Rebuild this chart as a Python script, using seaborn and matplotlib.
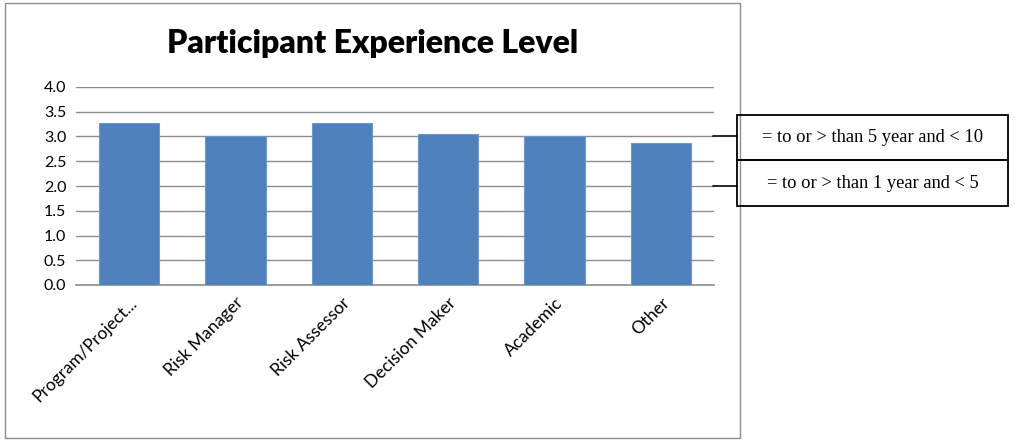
import matplotlib.pyplot as plt
import matplotlib.transforms as mtransforms
from matplotlib.patches import Rectangle
from matplotlib.lines import Line2D
import seaborn as sns
import pandas as pd

roles = ["Program/Project...", "Risk Manager", "Risk Assessor",
         "Decision Maker", "Academic", "Other"]
experience = [3.27, 3.01, 3.27, 3.05, 3.01, 2.86]
level_labels = ["= to or > than 5 year and < 10", "= to or > than 1 year and < 5"]
level_values = [3.0, 2.0]

df = pd.DataFrame({"role": roles, "experience": experience})

sns.set_style("white")
plt.rcParams["font.family"] = ["Lato", "DejaVu Sans"]
plt.rcParams["text.color"] = "black"
plt.rcParams["xtick.color"] = "black"
plt.rcParams["ytick.color"] = "black"

W, H = 1015, 440
fig = plt.figure(figsize=(W / 100, H / 100), dpi=100)
ax = fig.add_axes([76 / W, 1 - 285 / H, (714 - 76) / W, (285 - 87) / H])

sns.barplot(data=df, x="role", y="experience", color="#4f81bd", width=0.565,
            saturation=1, ax=ax, zorder=3, edgecolor="#7097cc", linewidth=0.8)

ax.set_ylim(0, 4.0)
ax.set_yticks([i * 0.5 for i in range(9)])
ax.set_yticklabels([f"{i * 0.5:.1f}" for i in range(9)], fontsize=11.5)
ax.yaxis.grid(True, color="#8c8c8c", linewidth=1, zorder=0)
ax.set_axisbelow(True)
ax.set_xlabel("")
ax.set_ylabel("")
ax.tick_params(axis="both", length=0, pad=7, labelcolor="black")
plt.setp(ax.get_xticklabels(), rotation=45, ha="right", rotation_mode="anchor",
         fontsize=12.5)
for side in ["top", "right", "left"]:
    ax.spines[side].set_visible(False)
ax.spines["bottom"].set_color("#8c8c8c")
ax.spines["bottom"].set_linewidth(1.2)

fig.text(373 / W, 1 - 43 / H, "Participant Experience Level", ha="center",
         va="center", fontsize=23, fontweight="heavy", color="black")

# outer chart frame
fig.add_artist(Rectangle((5 / W, 2 / H), (740 - 5) / W, (437 - 2) / H,
                         transform=fig.transFigure, fill=False,
                         edgecolor="#8c8c8c", linewidth=1))

# level boxes with connectors
blend = mtransforms.blended_transform_factory(fig.transFigure, ax.transData)
box_edges = [(115, 160), (160, 206)]
for lab, val, (top, bot) in zip(level_labels, level_values, box_edges):
    fig.add_artist(Line2D([713 / W, 737 / W], [val, val], transform=blend,
                          color="black", linewidth=1.2, clip_on=False))
    fig.add_artist(Rectangle((737 / W, 1 - bot / H), (1008 - 737) / W, (bot - top) / H,
                             transform=fig.transFigure, fill=False,
                             edgecolor="black", linewidth=1.3))
    fig.text((737 + 1008) / 2 / W, 1 - (top + bot) / 2 / H, lab, ha="center",
             va="center", fontsize=13.3, family="Liberation Serif", color="black")

fig.savefig("out.png", dpi=100)
